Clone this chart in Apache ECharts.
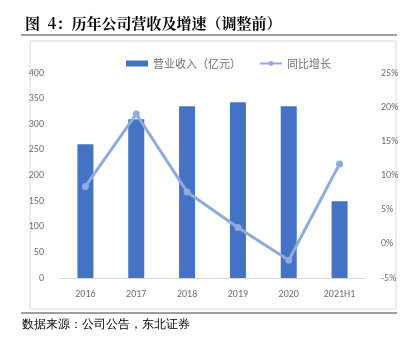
<!DOCTYPE html>
<html>
<head>
<meta charset="utf-8">
<script src="https://cdn.jsdelivr.net/npm/echarts@6/dist/echarts.min.js"></script>
<style>
html,body{margin:0;padding:0;background:#fff;}
#chart{width:410px;height:343px;}
</style>
</head>
<body>
<div id="chart"></div>
<script>
// Revenue (100 million CNY) and YoY growth (%)
const categories = ['2016', '2017', '2018', '2019', '2020', '2021H1'];
const revenue = [261, 310, 335, 343, 335, 150];
const growth = [8.4, 19.0, 7.6, 2.4, -2.4, 11.7];
const leftTicks = { min: 0, max: 400, interval: 50 };
const rightTicks = { min: -5, max: 25, interval: 5 };

const chart = echarts.init(document.getElementById('chart'));
const axisText = { color: '#6f6f6f', fontSize: 10, fontFamily: 'Calibri, Carlito, "Liberation Sans", Arial, sans-serif' };
chart.setOption({
  animation: false,
  backgroundColor: '#fff',
  title: {
    text: '图  4：历年公司营收及增速（调整前）',
    left: 20, top: 11,
    textStyle: { fontSize: 15, fontWeight: 'bold', color: '#000', fontFamily: '"Noto Serif CJK SC", "Noto Sans CJK SC", serif' }
  },
  legend: {
    top: 53, left: 121,
    itemGap: 18,
    textStyle: { color: '#6f6f6f', fontSize: 11, fontFamily: '"Noto Sans CJK SC", sans-serif' },
    data: [
      { name: '营业收入（亿元）', icon: 'rect', itemStyle: { color: '#4472C4' } },
      { name: '同比增长' }
    ],
    itemWidth: 22, itemHeight: 6
  },
  grid: { left: 60, right: 45, top: 73, bottom: 65 },
  xAxis: {
    type: 'category',
    data: categories,
    axisLine: { lineStyle: { color: '#D9D9D9' } },
    axisTick: { show: false },
    axisLabel: Object.assign({ margin: 11 }, axisText)
  },
  yAxis: [
    {
      type: 'value', min: leftTicks.min, max: leftTicks.max, interval: leftTicks.interval,
      splitLine: { show: false },
      axisLabel: Object.assign({ margin: 16 }, axisText)
    },
    {
      type: 'value', min: rightTicks.min, max: rightTicks.max, interval: rightTicks.interval,
      splitLine: { show: false },
      axisLabel: Object.assign({ margin: 16, formatter: '{value}%' }, axisText)
    }
  ],
  series: [
    {
      name: '营业收入（亿元）', type: 'bar', data: revenue,
      barWidth: 16,
      itemStyle: { color: '#4472C4' }
    },
    {
      name: '同比增长', type: 'line', yAxisIndex: 1, data: growth,
      symbol: 'circle', symbolSize: 7,
      lineStyle: { color: '#8FAADC', width: 3 },
      itemStyle: { color: '#8FAADC' }
    }
  ],
  graphic: [
    { type: 'line', shape: { x1: 21, y1: 35, x2: 397, y2: 35 }, style: { stroke: '#404040', lineWidth: 1 } },
    { type: 'rect', shape: { x: 30, y: 41, width: 366, height: 268 }, style: { fill: null, stroke: '#D9D9D9', lineWidth: 1 } },
    { type: 'line', shape: { x1: 21, y1: 313, x2: 397, y2: 313 }, style: { stroke: '#404040', lineWidth: 1 } },
    { type: 'text', left: 22, top: 319, style: { text: '数据来源：公司公告，东北证券', fontSize: 12, fill: '#000', font: '12px "Noto Serif CJK SC", "Noto Sans CJK SC", serif' } }
  ]
});
</script>
</body>
</html>
